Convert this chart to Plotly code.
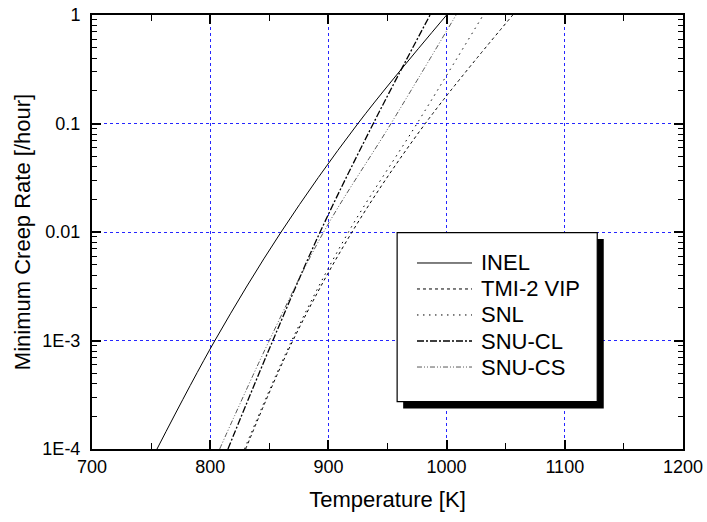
import plotly.graph_objects as go

# Data (temperature [K] at which each decade of creep rate is reached)
rate_levels = [1e-4, 1e-3, 1e-2, 1e-1, 1.0]
inel_T = [755, 804, 860, 925, 1000]
tmi_T = [830, 870, 920, 982, 1056]
snl_T = [829, 869, 917, 975, 1031]
snucl_T = [815, 853, 893, 938, 986]
snucs_T = [808, 850, 896, 953, 1008]

series_names = ["INEL", "TMI-2 VIP", "SNL", "SNU-CL", "SNU-CS"]

x_ticks = [700, 800, 900, 1000, 1100, 1200]
y_ticks = [1e-4, 1e-3, 1e-2, 1e-1, 1]
y_ticktext = ["1E-4", "1E-3", "0.01", "0.1", "1"]
y_minor = [m * 10.0 ** e for e in range(-4, 0) for m in range(2, 10)]

FONT = "Arial, Liberation Sans, sans-serif"

styles = [
    dict(color="black", width=1, dash="solid"),
    dict(color="black", width=1, dash="3px,3px"),
    dict(color="black", width=1, dash="1.5px,4.5px"),
    dict(color="black", width=1.3, dash="7px,2px,2px,2px"),
    dict(color="#444", width=0.9, dash="5px,2px,1px,2px,1px,2px"),
]
data_T = [inel_T, tmi_T, snl_T, snucl_T, snucs_T]

fig = go.Figure()
for name, T, ln in zip(series_names, data_T, styles):
    fig.add_trace(go.Scatter(x=T, y=rate_levels, mode="lines", name=name, showlegend=False,
                             line=dict(shape="spline", smoothing=1.0, **ln)))

grid = dict(showgrid=True, gridcolor="rgba(0,0,255,0.85)", gridwidth=1, griddash="dot")

# legend box (drawn as a framed panel with a drop shadow)
shapes = [
    dict(type="rect", xref="paper", yref="paper", x0=0.5265, x1=0.8659,
         y0=0.0933, y1=0.4839, fillcolor="black", line=dict(width=0), layer="above"),
    dict(type="rect", xref="paper", yref="paper", x0=0.5163, x1=0.8549,
         y0=0.109, y1=0.4984, fillcolor="white", line=dict(color="black", width=1.2),
         layer="above"),
]
annotations = []
row_y = [0.4286, 0.3687, 0.3088, 0.2488, 0.1889]
for name, ln, yy in zip(series_names, styles, row_y):
    shapes.append(dict(type="line", xref="paper", yref="paper", x0=0.5499, x1=0.643,
                       y0=yy, y1=yy, layer="above",
                       line=dict(color=ln["color"], width=ln["width"], dash=ln["dash"])))
    annotations.append(dict(text=name, xref="paper", yref="paper", x=0.6548, y=yy,
                            xanchor="left", yanchor="middle", showarrow=False,
                            font=dict(family=FONT, size=22, color="black")))

fig.update_layout(
    width=707, height=522,
    margin=dict(l=92, r=24, t=15, b=73, autoexpand=False),
    paper_bgcolor="white", plot_bgcolor="white",
    font=dict(family=FONT, size=18, color="black"),
    showlegend=False,
    xaxis=dict(range=[700, 1200], tickmode="array", tickvals=x_ticks, automargin=False,
               ticks="inside", ticklen=9, tickwidth=1.5, tickcolor="black",
               showline=True, linecolor="black", linewidth=2, mirror="ticks",
               zeroline=False,
               minor=dict(dtick=50, tick0=700, ticks="inside", ticklen=6, tickwidth=1.2,
                          tickcolor="black", showgrid=False),
               title=dict(text="Temperature [K]", font=dict(size=22), standoff=16),
               tickfont=dict(size=18), **grid),
    yaxis=dict(type="log", range=[-4, 0], tickmode="array", tickvals=y_ticks,
               ticktext=y_ticktext, automargin=False,
               ticks="inside", ticklen=9, tickwidth=1.5, tickcolor="black",
               showline=True, linecolor="black", linewidth=2, mirror="ticks",
               zeroline=False, ticklabelstandoff=6,
               minor=dict(tickmode="array", tickvals=y_minor, ticks="inside", ticklen=5,
                          tickwidth=1.2, tickcolor="black", showgrid=False),
               title=dict(text="Minimum Creep Rate [/hour]", font=dict(size=22), standoff=6),
               tickfont=dict(size=18), **grid),
    shapes=shapes,
    annotations=annotations,
)

fig.write_html("out.html")
